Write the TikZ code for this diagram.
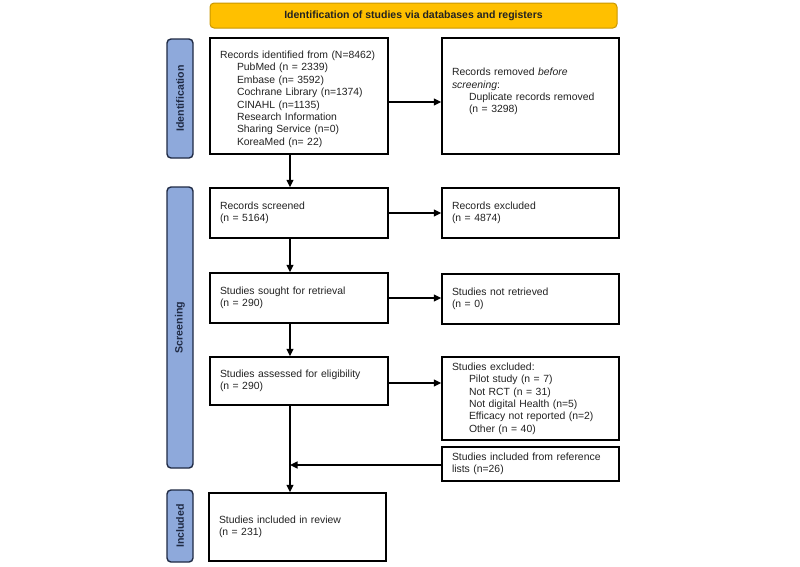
\documentclass[tikz,border=0pt]{standalone}
\usepackage{fontspec}
\setmainfont{Liberation Sans}
\usetikzlibrary{arrows.meta,calc}
\definecolor{hdrfill}{HTML}{FFC000}
\definecolor{hdrdraw}{HTML}{C99700}
\definecolor{barfill}{HTML}{8EA9DB}
\definecolor{bardraw}{HTML}{1F2A44}
\definecolor{txt}{HTML}{222222}
\newcommand{\ind}{\hspace*{17pt}}
\begin{document}
\begin{tikzpicture}[x=1pt,y=-1pt,
  box/.style={draw=black,line width=1.4pt,fill=white,inner xsep=10pt,inner ysep=0pt,
    text width=158pt,align=left,text=txt,font=\fontsize{10.4}{12.4}\selectfont,anchor=center},
  bar/.style={draw=bardraw,fill=barfill,line width=1.4pt,rounded corners=4pt,
    minimum width=26pt,inner sep=0pt,anchor=center},
  bartext/.style={font=\bfseries\fontsize{10.6}{12}\selectfont,rotate=90,text=bardraw},
  arr/.style={line width=1.4pt,-{Triangle[length=7.5pt,width=7pt]}}]
\useasboundingbox (0,0) rectangle (800,566);
% header
\node[draw=hdrdraw,fill=hdrfill,line width=1pt,rounded corners=4pt,minimum width=407pt,
  minimum height=25pt,text=txt,font=\bfseries\fontsize{10.5}{12}\selectfont] (hdr) at (413.5,15.5)
  {Identification of studies via databases and registers};
% side bars
\node[bar,minimum height=119pt] (bid) at (180,98.5) {};
\node[bartext] (tid) at (bid.center) {Identification};
\node[bar,minimum height=281pt] (bsc) at (180,327.5) {};
\node[bartext] (tsc) at (bsc.center) {Screening};
\node[bar,minimum height=72pt] (bin) at (180,526) {};
\node[bartext] (tin) at (bin.center) {Included};
% boxes
\node[box,minimum height=116pt] (ident) at (299,96) {\rule{0pt}{14pt}Records identified from (N=8462)\\
\ind PubMed (n = 2339)\\
\ind Embase (n= 3592)\\
\ind Cochrane Library (n=1374)\\
\ind CINAHL (n=1135)\\
\ind Research Information\\
\ind Sharing Service (n=0)\\
\ind KoreaMed (n= 22)};
\node[box,text width=157pt,minimum height=116pt] (removed) at (530.5,96) {Records removed \textit{before}\\\textit{screening}:\\
\ind Duplicate records removed\\
\ind (n = 3298)\\[-1.5pt]\mbox{}};
\node[box,minimum height=50pt] (screened) at (299,213) {Records screened\\(n = 5164)};
\node[box,text width=157pt,minimum height=50pt] (excl) at (530.5,213) {Records excluded\\(n = 4874)};
\node[box,minimum height=50pt] (sought) at (299,298) {Studies sought for retrieval\\(n = 290)};
\node[box,text width=157pt,minimum height=50pt] (notret) at (530.5,299) {Studies not retrieved\\(n = 0)};
\node[box,minimum height=48pt] (assess) at (299,381) {Studies assessed for eligibility\\(n = 290)};
\node[box,text width=157pt,minimum height=83pt] (sexcl) at (530.5,398.5) {Studies excluded:\\
\ind Pilot study (n = 7)\\
\ind Not RCT (n = 31)\\
\ind Not digital Health (n=5)\\
\ind Efficacy not reported (n=2)\\
\ind Other (n = 40)};
\node[box,text width=157pt,minimum height=34pt] (refs) at (530.5,464) {Studies included from reference\\lists (n=26)};
\node[box,text width=157pt,minimum height=68pt] (incl) at (297.5,527) {Studies included in review\\(n = 231)};
% connectors
\coordinate (colx) at (290,0);
\coordinate (join) at (290,465);
\draw[arr] (ident.south -| colx) -- (screened.north -| colx);
\draw[arr] (screened.south -| colx) -- (sought.north -| colx);
\draw[arr] (sought.south -| colx) -- (assess.north -| colx);
\draw[arr] (assess.south -| colx) -- (incl.north -| colx);
\draw[arr] (ident.east |- 0,102) -- (removed.west |- 0,102);
\draw[arr] (screened.east) -- (excl.west);
\draw[arr] (sought.east) -- (notret.west |- sought.east);
\draw[arr] (assess.east |- 0,383) -- (sexcl.west |- 0,383);
\draw[arr] (refs.west |- join) -- (join);
\end{tikzpicture}
\end{document}
